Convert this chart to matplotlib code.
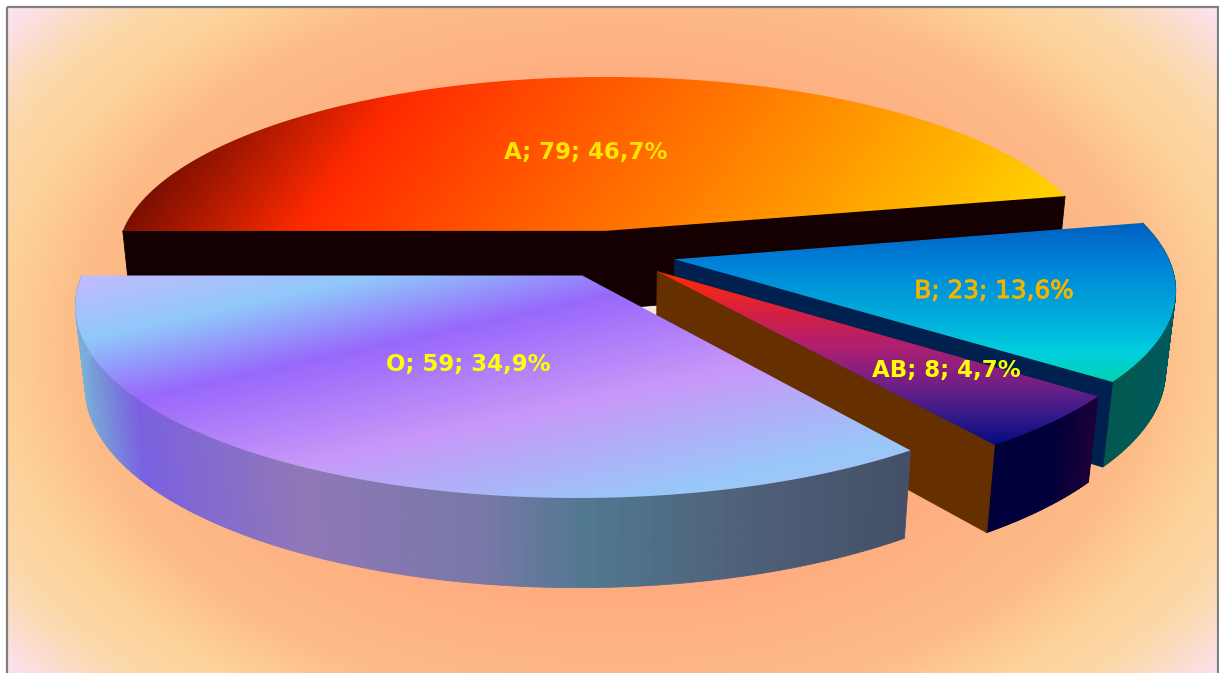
import numpy as np
import matplotlib
matplotlib.use('Agg')
import matplotlib.pyplot as plt
import matplotlib.patheffects as pe
from matplotlib.colors import LinearSegmentedColormap
from matplotlib.patches import Polygon, Rectangle
from matplotlib.collections import PolyCollection

# Blood group counts
groups = ['A', 'B', 'AB', 'O']
counts = [79, 23, 8, 59]

W, H = 1219, 673

# perspective of the pie plane
cx, cy = 612, 254
rx, ry = 492, 182.8
persp = 0.147
depth_w = 0.018
thick = 81
explode = 0.13

label_xy = [(586, 152), (994, 291), (946, 371), (468, 365)]
label_col = ['#ffe400', '#f2b400', '#ffff00', '#ffff00']
label_wt = ['bold', 'normal', 'bold', 'bold']
label_size = [16.5, 17.8, 16.5, 16.5]


def project(u, v, bottom=False):
    w = 1 + persp * v + (depth_w if bottom else 0)
    drop = thick if bottom else 0
    return cx + rx * u / w, cy - (ry * v - drop) / w


def ramp(stops):
    lo, hi = stops[0][0], stops[-1][0]
    return LinearSegmentedColormap.from_list(
        'r', [((p - lo) / (hi - lo), c) for p, c in stops], N=512), lo, hi


fig = plt.figure(figsize=(W / 100, H / 100), dpi=100, facecolor='white')
ax = fig.add_axes([0, 0, 1, 1])

# glow behind the pie
yy, xx = np.mgrid[0:H, 0:W]
r = np.hypot((xx - 612) / 605, (yy - 340) / 410)
bg_map, lo, hi = ramp([(0, '#ffa980'), (0.6, '#ffab80'), (0.9, '#fdbc88'),
                       (1.04, '#fdd39b'), (1.14, '#fcd8a8'), (1.21, '#fbdcc6'), (1.31, '#fbe4f6')])
ax.imshow(bg_map(np.clip(r / hi, 0, 1)), extent=(8, 1217, H, 8), aspect='auto', zorder=0)
ax.add_patch(Polygon([(640, 304), (660, 304), (660, 320), (640, 320)], color='#f8e8dc', lw=0, zorder=1))

top_stops = [
    ([(290, '#7a0f00'), (470, '#ff2a00'), (700, '#ff6000'), (900, '#ff8c00'), (1190, '#ffd000')], 1.0, 0.75),
    ([(223, '#0060c0'), (260, '#0080d8'), (330, '#00b8dc'), (350, '#00d0e0'), (382, '#00d2b0')], 0.0, 1.0),
    ([(275, '#ff2a00'), (310, '#d82040'), (345, '#b01f70'), (385, '#702088'), (415, '#351a88'), (447, '#000a80')], 0.0, 1.0),
    ([(290, '#c4baff'), (358, '#90c8fa'), (428, '#9868fc'), (530, '#c898f8'), (640, '#98c8f8'), (680, '#b0c0ff')], 0.22, 1.0),
]
cut_colors = ['#140000', '#002050', '#652f00', '#445068']
wall_stops = [
    None,
    [(1100, '#00584c'), (1180, '#005a60')],
    [(985, '#00003a'), (1050, '#00003a'), (1100, '#220038')],
    [(80, '#78b0d8'), (140, '#7a60e0'), (300, '#9078b8'), (480, '#7878a8'),
     (590, '#507890'), (750, '#4e6078'), (905, '#445068')],
]

total = sum(counts)
start = 180.0
for i, n in enumerate(counts):
    sweep = 360.0 * n / total
    end = start - sweep
    mid = np.radians((start + end) / 2)
    ou, ov = explode * np.cos(mid), explode * np.sin(mid)
    t = np.radians(np.linspace(start, end, 120))
    u = ou + np.cos(t)
    v = ov + np.sin(t)

    rim_top = np.column_stack(project(u, v))
    rim_bot = np.column_stack(project(u, v, bottom=True))
    apex_top = np.array(project(ou, ov))
    apex_bot = np.array(project(ou, ov, bottom=True))

    # outer wall as narrow strips, the back of slice A stays hidden
    if wall_stops[i] is not None:
        quads = [[rim_top[j], rim_top[j + 1], rim_bot[j + 1], rim_bot[j]] for j in range(len(t) - 1)]
        wall_map, lo, hi = ramp(wall_stops[i])
        mids = np.array([np.mean(q, axis=0)[0] for q in quads])
        cols = wall_map(np.clip((mids - lo) / (hi - lo), 0, 1))
        ax.add_collection(PolyCollection(quads, facecolors=cols, edgecolors=cols, linewidths=0.6, zorder=2 + i))

    # radial cut faces
    if i == 0:
        ax.add_patch(Polygon([apex_top, rim_top[0], rim_bot[0], apex_bot], fc=cut_colors[i], ec=cut_colors[i], lw=0.6, zorder=2))
    if i < 3:
        ax.add_patch(Polygon([apex_top, rim_top[-1], rim_bot[-1], apex_bot], fc=cut_colors[i], ec=cut_colors[i], lw=0.6, zorder=2 + i))

    # top face
    pts = np.vstack([apex_top, rim_top])
    stops, tx, ty = top_stops[i]
    cmap, lo, hi = ramp(stops)
    tt = (tx * xx + ty * yy - lo) / (hi - lo)
    im = ax.imshow(cmap(np.clip(tt, 0, 1)), extent=(0, W, H, 0), aspect='auto', zorder=2.5 + i)
    im.set_clip_path(Polygon(pts, closed=True, transform=ax.transData))

    pct = f'{100 * n / total:.1f}'.replace('.', ',')
    txt = ax.text(label_xy[i][0], label_xy[i][1], f'{groups[i]}; {n}; {pct}%', color=label_col[i],
                  fontsize=label_size[i], fontweight=label_wt[i], family='DejaVu Sans',
                  ha='center', va='center', zorder=10)
    if label_wt[i] == 'normal':
        txt.set_path_effects([pe.withStroke(linewidth=0.7, foreground=label_col[i])])
    start = end

# chart frame
ax.add_patch(Rectangle((7, 7), 1211, 700, fill=False, ec='#808080', lw=1.6, zorder=11))

ax.set_xlim(0, W)
ax.set_ylim(H, 0)
ax.axis('off')
fig.savefig('out.png', dpi=100)
